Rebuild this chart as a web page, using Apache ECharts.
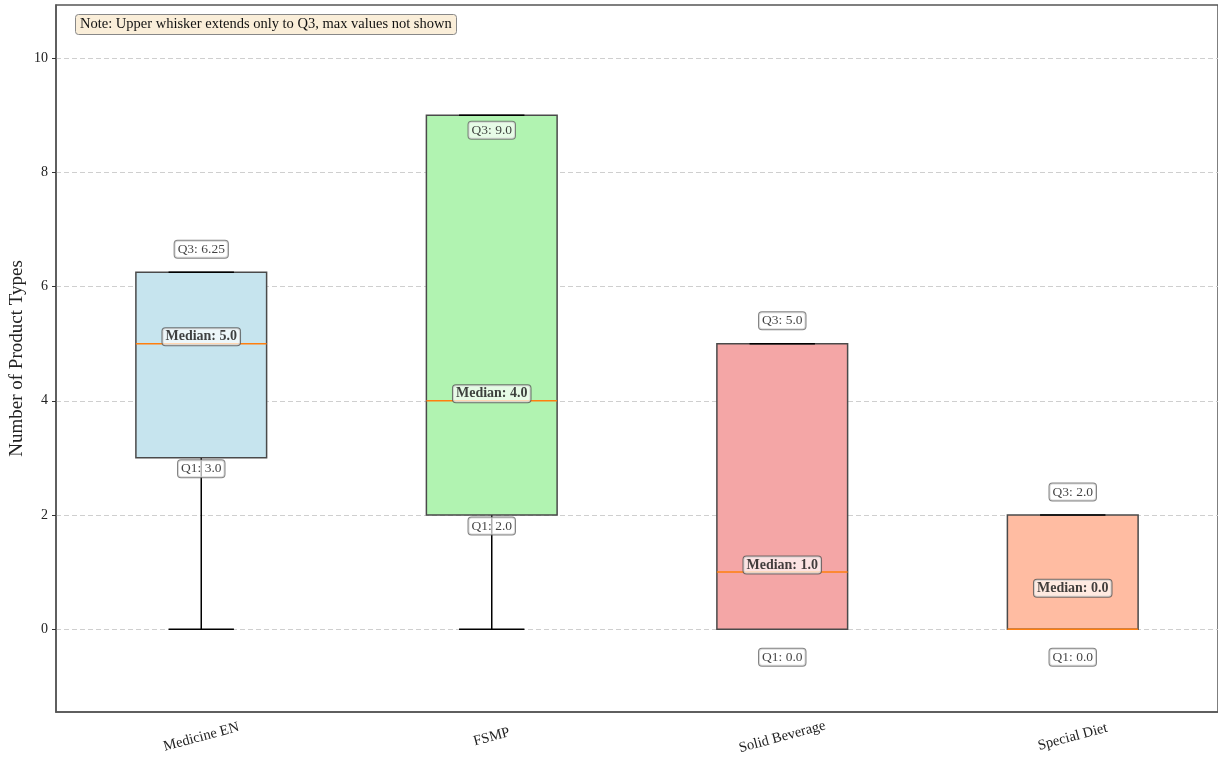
<!DOCTYPE html>
<html>
<head>
<meta charset="utf-8">
<script src="https://cdn.jsdelivr.net/npm/echarts@6/dist/echarts.min.js"></script>
<style>html,body{margin:0;padding:0;background:#fff}#c{width:1218px;height:758px}</style>
</head>
<body>
<div id="c"></div>
<script>
const categories = ['Medicine EN', 'FSMP', 'Solid Beverage', 'Special Diet'];
const mins    = [0, 0, 0, 0];
const q1s     = [3.0, 2.0, 0.0, 0.0];
const medians = [5.0, 4.0, 1.0, 0.0];
const q3s     = [6.25, 9.0, 5.0, 2.0];
const uppers  = [6.25, 9.0, 5.0, 2.0]; // upper whisker stops at Q3
const boxColors = ['#c6e4ee', '#b1f3b1', '#f4a6a6', '#ffbca2'];
const yTicks = [0, 2, 4, 6, 8, 10];

const FONT = '"Liberation Serif", "DejaVu Serif", serif';
const fmt = v => (Number.isInteger(v) ? v.toFixed(1) : String(v));

const boxRows = categories.map((c, i) => [i, mins[i], q1s[i], medians[i], q3s[i], uppers[i]]);

const smallLabel = {
  show: true, fontFamily: FONT, fontSize: 13.5, color: '#111',
  backgroundColor: 'rgba(255,255,255,0.85)', borderColor: '#666', borderWidth: 1,
  borderRadius: 3, padding: [2, 3, 1, 3], position: 'inside'
};

const q3Points = categories.map((c, i) => ({
  value: [i, q3s[i]],
  label: Object.assign({}, smallLabel, { formatter: 'Q3: ' + fmt(q3s[i]), offset: [0, q3s[i] > 8.5 ? 15 : -23] })
}));
const q1Points = categories.map((c, i) => ({
  value: [i, q1s[i]],
  label: Object.assign({}, smallLabel, { formatter: 'Q1: ' + fmt(q1s[i]), offset: [0, q1s[i] === 0 ? 28 : 11] })
}));
const medLabelPoints = categories.map((c, i) => ({
  value: [i, medians[i]],
  label: Object.assign({}, smallLabel, {
    formatter: 'Median: ' + fmt(medians[i]), fontWeight: 'bold', fontSize: 14,
    backgroundColor: 'rgba(255,255,255,0.85)', borderColor: '#555',
    offset: [0, medians[i] === q1s[i] ? -41 : -7]
  })
}));

function renderBox(params, api) {
  const idx = api.value(0);
  const vMin = api.value(1), vQ1 = api.value(2), vMed = api.value(3), vQ3 = api.value(4), vMax = api.value(5);
  const band = api.size([1, 0])[0];
  const half = band * 0.45 / 2;
  const capHalf = half / 2;
  const pMin = api.coord([idx, vMin]);
  const pQ1 = api.coord([idx, vQ1]);
  const pMed = api.coord([idx, vMed]);
  const pQ3 = api.coord([idx, vQ3]);
  const pMax = api.coord([idx, vMax]);
  const cx = pQ1[0];
  const black = { stroke: '#000', lineWidth: 1.5 };
  return {
    type: 'group',
    children: [
      { type: 'line', shape: { x1: cx, y1: pQ1[1], x2: cx, y2: pMin[1] }, style: black },
      { type: 'line', shape: { x1: cx, y1: pQ3[1], x2: cx, y2: pMax[1] }, style: black },
      { type: 'line', shape: { x1: cx - capHalf, y1: pMin[1], x2: cx + capHalf, y2: pMin[1] }, style: black },
      { type: 'rect', shape: { x: cx - half, y: pQ3[1], width: half * 2, height: pQ1[1] - pQ3[1] },
        style: { fill: boxColors[params.dataIndex], stroke: '#4a4a4a', lineWidth: 1.5 } },
      { type: 'line', shape: { x1: cx - capHalf, y1: pMax[1], x2: cx + capHalf, y2: pMax[1] }, style: black },
      { type: 'line', shape: { x1: cx - half, y1: pMed[1], x2: cx + half, y2: pMed[1] }, style: { stroke: '#ff7f0e', lineWidth: 1.5 } }
    ]
  };
}

const chart = echarts.init(document.getElementById('c'), null, { renderer: 'canvas' });
chart.setOption({
  animation: false,
  backgroundColor: '#fff',
  title: {
    text: 'Note: Upper whisker extends only to Q3, max values not shown',
    left: 75, top: 14,
    textStyle: { fontFamily: FONT, fontSize: 14.5, fontWeight: 'normal', color: '#111' },
    backgroundColor: '#faeed9', borderColor: '#888', borderWidth: 1, borderRadius: 3,
    padding: [3, 5, 3, 5]
  },
  grid: { left: 56, right: 0, top: 5, bottom: 46, show: true, borderColor: '#555', borderWidth: 1.5,
          backgroundColor: 'transparent', containLabel: false, outerBoundsMode: 'none' },
  xAxis: {
    type: 'category', data: categories, boundaryGap: true,
    axisLine: { onZero: false, lineStyle: { color: '#555', width: 1.5 } },
    axisTick: { alignWithLabel: true, length: 4, lineStyle: { color: '#333' } },
    axisLabel: { rotate: 15, align: 'center', verticalAlign: 'middle', margin: 25, fontFamily: FONT, fontSize: 14.5, color: '#222' },
    splitLine: { show: false }
  },
  yAxis: {
    type: 'value', min: -1.45, max: 10.93, splitNumber: 6,
    name: 'Number of Product Types', nameLocation: 'middle', nameGap: 29, nameMoveOverlap: false,
    nameTextStyle: { fontFamily: FONT, fontSize: 19, color: '#222' },
    axisLine: { show: true, onZero: false, lineStyle: { color: '#555', width: 1.5 } },
    axisTick: { show: true, length: 4, lineStyle: { color: '#333' }, customValues: yTicks },
    axisLabel: { fontFamily: FONT, fontSize: 14, color: '#222', margin: 8, customValues: yTicks, formatter: v => String(v) },
    splitLine: { show: true, lineStyle: { color: '#cfcfcf', type: [5, 3], width: 1 } }
  },
  series: [
    {
      type: 'custom', data: boxRows, renderItem: renderBox,
      encode: { x: 0, y: [1, 2, 3, 4, 5] }, z: 2, silent: true
    },
    { type: 'scatter', data: q3Points, symbolSize: 0, z: 5, silent: true },
    { type: 'scatter', data: q1Points, symbolSize: 0, z: 5, silent: true },
    { type: 'scatter', data: medLabelPoints, symbolSize: 0, z: 6, silent: true }
  ]
});
</script>
</body>
</html>
